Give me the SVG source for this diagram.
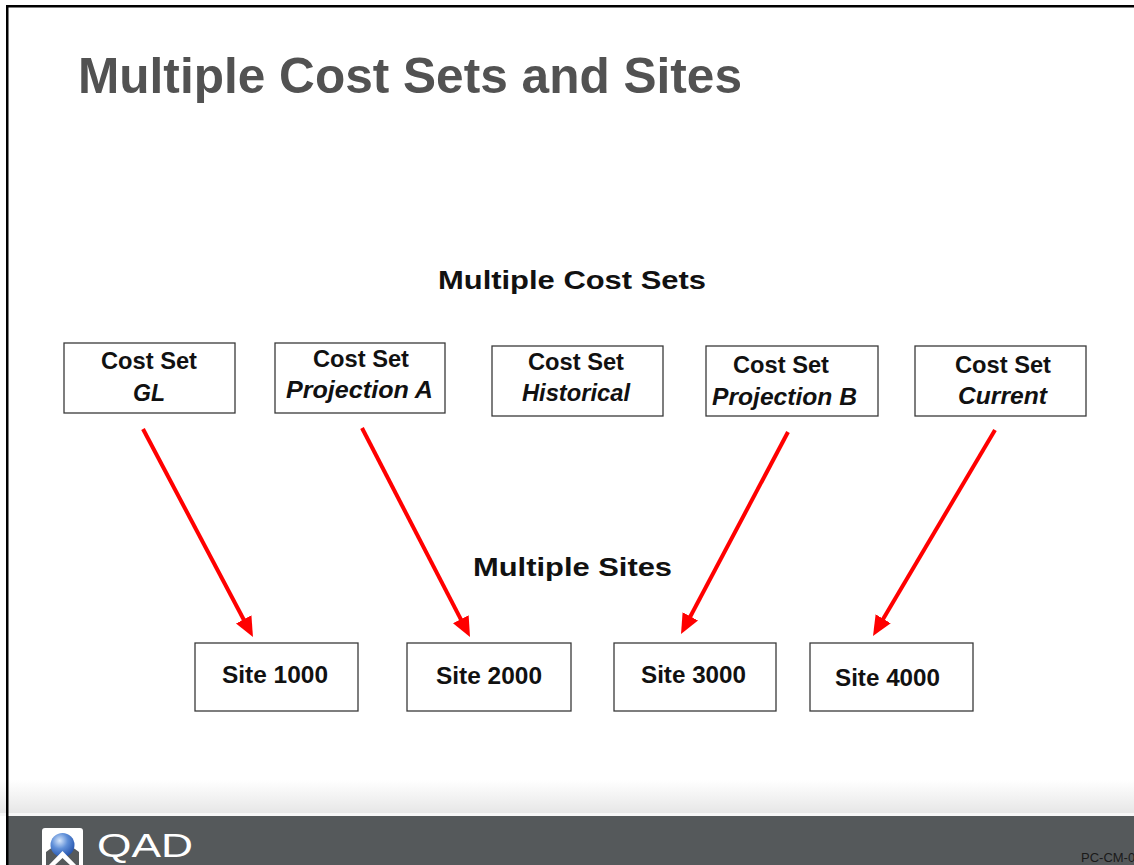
<svg xmlns="http://www.w3.org/2000/svg" width="1134" height="865" viewBox="0 0 1134 865">
  <defs>
    <linearGradient id="footFade" x1="0" y1="0" x2="0" y2="1">
      <stop offset="0" stop-color="#ffffff"/>
      <stop offset="1" stop-color="#e6e6e6"/>
    </linearGradient>
    <radialGradient id="sphere" cx="0.38" cy="0.32" r="0.75">
      <stop offset="0" stop-color="#d6e6fb"/>
      <stop offset="0.45" stop-color="#5f8fd8"/>
      <stop offset="1" stop-color="#1f4ea8"/>
    </radialGradient>
    <marker id="arrowHead" markerUnits="strokeWidth" markerWidth="5" markerHeight="4.4" refX="2.5" refY="2.2" orient="auto">
      <path d="M0,0 L5,2.2 L0,4.4 Z" fill="#ff0000"/>
    </marker>
    <style>
      .box { fill: #ffffff; stroke: #3a3a3a; stroke-width: 1.3; }
      .lbl { font-family: "Liberation Sans", Arial, sans-serif; font-weight: bold; fill: #111111; text-anchor: middle; }
      .reg { font-size: 23px; }
      .ital { font-size: 23px; font-style: italic; }
      .site { font-size: 23px; }
      .head { font-family: "Liberation Sans", Arial, sans-serif; font-weight: bold; font-size: 26px; fill: #111111; }
      .arrow { stroke: #ff0000; stroke-width: 4; fill: none; marker-end: url(#arrowHead); }
    </style>
  </defs>

  <!-- background and frame -->
  <rect x="0" y="0" width="1134" height="865" fill="#ffffff"/>
  <rect x="0" y="780" width="1134" height="34" fill="url(#footFade)"/>
  <rect x="0" y="813" width="1134" height="3" fill="#f7f7f7"/>
  <rect x="8" y="816" width="1126" height="49" fill="#55595b"/>
  <rect x="7" y="5" width="1127" height="2.5" fill="#000000"/>
  <rect x="6" y="5" width="2.5" height="860" fill="#000000"/>

  <!-- title -->
  <text x="78" y="93" font-family="'Liberation Sans', Arial, sans-serif" font-weight="bold" font-size="50" fill="#525252" textLength="664" lengthAdjust="spacingAndGlyphs">Multiple Cost Sets and Sites</text>

  <!-- section headings -->
  <text class="head" x="438" y="289" textLength="268" lengthAdjust="spacingAndGlyphs">Multiple Cost Sets</text>
  <text class="head" x="473" y="576" textLength="199" lengthAdjust="spacingAndGlyphs">Multiple Sites</text>

  <!-- connectors -->
  <g id="connectors">
    <line class="arrow" x1="143" y1="429" x2="248.3" y2="628.2"/>
    <line class="arrow" x1="362" y1="428" x2="465.4" y2="628.1"/>
    <line class="arrow" x1="788" y1="432" x2="685.7" y2="625.2"/>
    <line class="arrow" x1="995" y1="430" x2="878.1" y2="627.4"/>
  </g>

  <!-- cost set nodes -->
  <g id="costset-gl">
    <rect class="box" x="64" y="343" width="171" height="70"/>
    <text class="lbl reg" x="149" y="369" textLength="96" lengthAdjust="spacingAndGlyphs">Cost Set</text>
    <text class="lbl ital" x="149" y="401" textLength="32" lengthAdjust="spacingAndGlyphs">GL</text>
  </g>
  <g id="costset-projection-a">
    <rect class="box" x="275" y="343" width="170" height="70"/>
    <text class="lbl reg" x="361" y="367" textLength="96" lengthAdjust="spacingAndGlyphs">Cost Set</text>
    <text class="lbl ital" x="359.5" y="398" textLength="147" lengthAdjust="spacingAndGlyphs">Projection A</text>
  </g>
  <g id="costset-historical">
    <rect class="box" x="492" y="346" width="171" height="70"/>
    <text class="lbl reg" x="576" y="370" textLength="96" lengthAdjust="spacingAndGlyphs">Cost Set</text>
    <text class="lbl ital" x="576" y="401" textLength="108" lengthAdjust="spacingAndGlyphs">Historical</text>
  </g>
  <g id="costset-projection-b">
    <rect class="box" x="706" y="346" width="172" height="70"/>
    <text class="lbl reg" x="781" y="373" textLength="96" lengthAdjust="spacingAndGlyphs">Cost Set</text>
    <text class="lbl ital" x="784.5" y="405" textLength="145" lengthAdjust="spacingAndGlyphs">Projection B</text>
  </g>
  <g id="costset-current">
    <rect class="box" x="915" y="346" width="171" height="70"/>
    <text class="lbl reg" x="1003" y="373" textLength="96" lengthAdjust="spacingAndGlyphs">Cost Set</text>
    <text class="lbl ital" x="1002.5" y="404" textLength="89" lengthAdjust="spacingAndGlyphs">Current</text>
  </g>

  <!-- site nodes -->
  <g id="site-1000">
    <rect class="box" x="195" y="643" width="163" height="68"/>
    <text class="lbl site" x="275" y="683" textLength="106" lengthAdjust="spacingAndGlyphs">Site 1000</text>
  </g>
  <g id="site-2000">
    <rect class="box" x="407" y="643" width="164" height="68"/>
    <text class="lbl site" x="489" y="684" textLength="106" lengthAdjust="spacingAndGlyphs">Site 2000</text>
  </g>
  <g id="site-3000">
    <rect class="box" x="614" y="643" width="162" height="68"/>
    <text class="lbl site" x="693.5" y="683" textLength="105" lengthAdjust="spacingAndGlyphs">Site 3000</text>
  </g>
  <g id="site-4000">
    <rect class="box" x="810" y="643" width="163" height="68"/>
    <text class="lbl site" x="887.5" y="686" textLength="105" lengthAdjust="spacingAndGlyphs">Site 4000</text>
  </g>

  <!-- footer logo -->
  <g id="qad-logo">
    <rect x="42" y="828" width="41" height="40" rx="3" fill="#ffffff"/>
    <path d="M46,866 L46,852 Q62.5,838 79,852 L79,866 Z" fill="#55595b"/>
    <circle cx="62.5" cy="845" r="12" fill="url(#sphere)"/>
    <path d="M48,866 L62.5,851 L77,866 L71,866 L62.5,858 L54,866 Z" fill="#ffffff"/>
    <text x="97" y="857" font-family="'Liberation Sans', Arial, sans-serif" font-size="33" fill="#ffffff" textLength="96" lengthAdjust="spacingAndGlyphs">QAD</text>
  </g>
  <text x="1081" y="862" font-family="'Liberation Sans', Arial, sans-serif" font-size="13" fill="#1a1a1a">PC-CM-0</text>
</svg>
